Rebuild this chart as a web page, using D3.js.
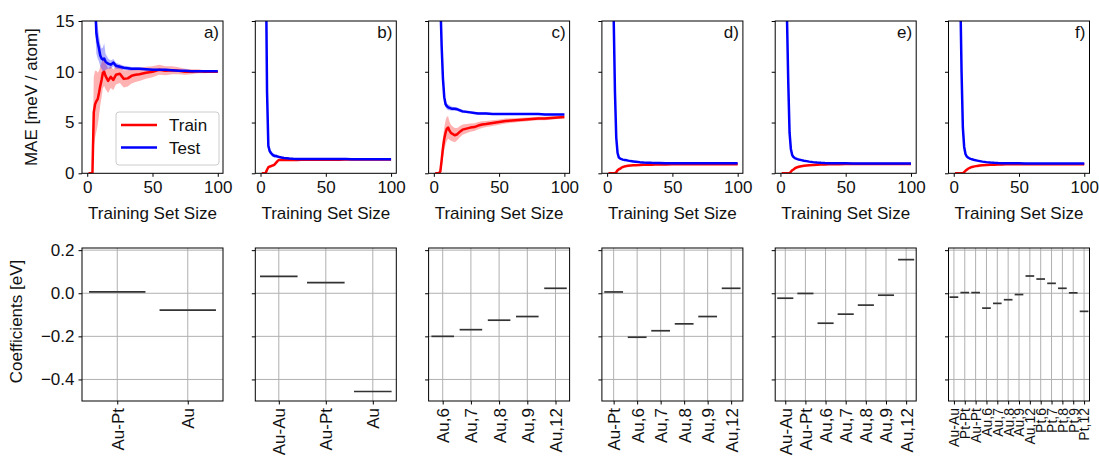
<!DOCTYPE html>
<html>
<head>
<script src="https://d3js.org/d3.v7.min.js"></script>
<style>
  body { margin: 0; background: #fff; }
  svg { font-family: 'Liberation Sans', Arial, sans-serif; }
  .axis path, .axis line { stroke: #000; stroke-width: 1; }
  .axis text { font-size: 17px; fill: #111; }
</style>
</head>
<body>
<div id="chart"></div>
<script>
// training set sizes (shared by every learning curve)
const sizes = [1,2,3,4,5,6,7,8,9,10,11,12,13,14,16,18,20,22,25,28,31,34,37,40,45,50,55,60,65,70,75,80,85,90,95,100];

// panel a
const trainA = [0,0,0,0,6.0,6.8,7.1,7.3,7.9,8.6,9.2,9.9,10.0,9.6,9.1,9.5,9.2,9.7,9.8,9.3,9.35,9.6,9.7,9.75,9.9,10.0,10.2,10.1,10.15,10.1,10.0,10.0,10.05,10.0,10.0,10.0];
const trainAsd = [0,0,0,0,3.5,3.3,3.0,2.6,2.2,1.9,1.7,1.5,1.4,1.3,1.2,1.1,1.0,0.95,0.9,0.85,0.8,0.75,0.7,0.65,0.6,0.55,0.5,0.45,0.4,0.35,0.3,0.25,0.2,0.15,0.1,0.08];
const testA = [60,45,35,28,22,17,13.8,12.9,12.3,11.6,11.3,11.2,11.3,11.0,10.8,10.7,10.9,10.6,10.5,10.4,10.35,10.3,10.3,10.3,10.25,10.2,10.2,10.2,10.15,10.1,10.1,10.05,10.05,10.05,10.05,10.05];
const testAsd = [5,5,5,5,4,2.5,2.0,1.6,1.3,1.1,1.0,1.2,1.5,0.8,0.5,0.4,0.35,0.3,0.25,0.2,0.2,0.18,0.16,0.15,0.13,0.12,0.1,0.1,0.09,0.08,0.07,0.06,0.06,0.05,0.05,0.05];
// panel b
const trainB = [0,0,0,0.05,0.35,0.6,0.65,0.7,0.75,0.8,0.9,1.05,1.2,1.3,1.3,1.3,1.3,1.3,1.32,1.32,1.33,1.33,1.33,1.33,1.34,1.34,1.34,1.34,1.35,1.35,1.35,1.35,1.35,1.35,1.35,1.35];
const trainBsd = [0,0,0,0.05,0.15,0.15,0.15,0.15,0.12,0.12,0.1,0.1,0.1,0.08,0.08,0.07,0.06,0.06,0.05,0.05,0.05,0.05,0.05,0.05,0.04,0.04,0.04,0.04,0.04,0.03,0.03,0.03,0.03,0.03,0.03,0.03];
const testB = [80,60,40,22,8,2.7,2.2,2.0,1.85,1.75,1.7,1.7,1.65,1.62,1.55,1.5,1.48,1.45,1.43,1.42,1.41,1.4,1.4,1.4,1.4,1.4,1.4,1.4,1.4,1.39,1.39,1.39,1.39,1.38,1.38,1.38];
const testBsd = [5,5,5,4,2,0.3,0.25,0.2,0.2,0.18,0.15,0.15,0.12,0.12,0.1,0.1,0.08,0.08,0.07,0.06,0.06,0.05,0.05,0.05,0.05,0.04,0.04,0.04,0.04,0.04,0.03,0.03,0.03,0.03,0.03,0.03];
// panel c
const trainC = [0,0,0,0,0.2,1.3,2.5,3.4,4.0,4.4,4.5,4.2,4.0,3.9,3.75,3.85,4.1,4.3,4.4,4.5,4.55,4.7,4.8,4.85,4.95,5.05,5.15,5.2,5.25,5.3,5.35,5.4,5.4,5.45,5.5,5.55];
const trainCsd = [0,0,0,0,0.3,0.8,1.0,1.1,1.2,1.2,1.1,0.9,0.8,0.75,0.7,0.6,0.55,0.5,0.45,0.4,0.38,0.35,0.33,0.3,0.28,0.26,0.24,0.22,0.2,0.2,0.18,0.18,0.17,0.16,0.15,0.15];
const testC = [70,50,35,25,17,12.5,9.3,7.5,6.8,6.6,6.5,6.45,6.4,6.35,6.35,6.3,6.2,6.1,6.05,6.0,5.95,5.9,5.9,5.9,5.85,5.85,5.85,5.85,5.85,5.85,5.85,5.85,5.8,5.8,5.8,5.8];
const testCsd = [5,5,5,5,2,0.6,0.4,0.35,0.3,0.3,0.28,0.25,0.22,0.2,0.18,0.17,0.16,0.15,0.14,0.13,0.12,0.12,0.11,0.11,0.1,0.1,0.1,0.09,0.09,0.09,0.08,0.08,0.08,0.08,0.07,0.07];
// panels d, e, f (narrow bands)
const trainD = [0,0,0,0,0,0,0.1,0.3,0.4,0.45,0.55,0.62,0.66,0.7,0.74,0.77,0.79,0.8,0.82,0.83,0.84,0.85,0.86,0.86,0.87,0.88,0.88,0.88,0.88,0.88,0.88,0.88,0.88,0.88,0.88,0.88];
const testD = [80,60,40,25,15.5,8,3.5,2.0,1.55,1.45,1.4,1.35,1.32,1.3,1.25,1.2,1.17,1.14,1.1,1.07,1.05,1.03,1.02,1.01,1.0,1.0,1.0,1.0,1.0,0.99,0.99,0.99,0.99,0.99,0.99,0.99];
const trainE = [0,0,0,0,0,0,0,0.15,0.3,0.38,0.48,0.55,0.6,0.64,0.7,0.74,0.77,0.79,0.82,0.84,0.86,0.87,0.88,0.89,0.9,0.91,0.91,0.91,0.91,0.91,0.91,0.91,0.91,0.91,0.91,0.91];
const testE = [80,60,40,25,15.5,9,4,2.4,1.8,1.6,1.5,1.45,1.4,1.36,1.3,1.24,1.2,1.15,1.1,1.06,1.03,1.01,1.0,0.99,0.98,0.98,0.97,0.97,0.97,0.97,0.97,0.97,0.97,0.96,0.96,0.96];
const trainF = [0,0,0,0,0,0,0,0.1,0.25,0.35,0.45,0.52,0.58,0.62,0.68,0.73,0.76,0.79,0.82,0.84,0.85,0.86,0.87,0.88,0.89,0.9,0.9,0.9,0.9,0.9,0.9,0.9,0.9,0.9,0.9,0.9];
const testF = [80,60,40,28,18,10,4.5,2.6,1.9,1.65,1.55,1.48,1.42,1.38,1.3,1.25,1.2,1.15,1.1,1.06,1.03,1.01,1.0,0.99,0.98,0.98,0.97,0.97,0.97,0.97,0.97,0.96,0.96,0.96,0.96,0.96];
const trainSmallSd = [0,0,0,0,0,0,0.05,0.08,0.08,0.07,0.06,0.06,0.05,0.05,0.05,0.04,0.04,0.04,0.03,0.03,0.03,0.03,0.03,0.03,0.02,0.02,0.02,0.02,0.02,0.02,0.02,0.02,0.02,0.02,0.02,0.02];
const testSmallSd = [5,5,5,4,2,0.5,0.2,0.1,0.08,0.07,0.06,0.06,0.05,0.05,0.05,0.04,0.04,0.04,0.03,0.03,0.03,0.03,0.03,0.03,0.02,0.02,0.02,0.02,0.02,0.02,0.02,0.02,0.02,0.02,0.02,0.02];

// coefficient panels
const catsA = ["Au-Pt","Au"];
const coefA = [0.006,-0.078];
const catsB = ["Au-Au","Au-Pt","Au"];
const coefB = [0.078,0.049,-0.456];
const catsC = ["Au,6","Au,7","Au,8","Au,9","Au,12"];
const coefC = [-0.2,-0.169,-0.125,-0.108,0.023];
const catsD = ["Au-Pt","Au,6","Au,7","Au,8","Au,9","Au,12"];
const coefD = [0.006,-0.204,-0.174,-0.142,-0.108,0.023];
const catsE = ["Au-Au","Au-Pt","Au,6","Au,7","Au,8","Au,9","Au,12"];
const coefE = [-0.023,-0.001,-0.139,-0.097,-0.055,-0.009,0.156];
const catsF = ["Au-Au","Pt-Pt","Au-Pt","Au,6","Au,7","Au,8","Au,9","Au,12","Pt,6","Pt,7","Pt,8","Pt,9","Pt,12"];
const coefF = [-0.018,0.003,0.003,-0.069,-0.047,-0.03,-0.006,0.08,0.066,0.046,0.023,0.002,-0.084];

const panelLabels = ["a)","b)","c)","d)","e)","f)"];
const maeTicks = [0,5,10,15];
const sizeTicks = [0,50,100];
const coefTicks = [0.2,0.0,-0.2,-0.4];

const curves = [
  {train: trainA, trainSd: trainAsd, test: testA, testSd: testAsd},
  {train: trainB, trainSd: trainBsd, test: testB, testSd: testBsd},
  {train: trainC, trainSd: trainCsd, test: testC, testSd: testCsd},
  {train: trainD, trainSd: trainSmallSd, test: testD, testSd: testSmallSd},
  {train: trainE, trainSd: trainSmallSd, test: testE, testSd: testSmallSd},
  {train: trainF, trainSd: trainSmallSd, test: testF, testSd: testSmallSd}
];
const coefs = [
  {cats: catsA, vals: coefA}, {cats: catsB, vals: coefB}, {cats: catsC, vals: coefC},
  {cats: catsD, vals: coefD}, {cats: catsE, vals: coefE}, {cats: catsF, vals: coefF}
];

const W = 1099, H = 458;
const left0 = 82, step = 173.3, pw = 141;
const topY = 21, topH = 152.3;
const botY = 248, botH = 153;

const svg = d3.select("#chart").append("svg").attr("width", W).attr("height", H);

const x = d3.scaleLinear().domain([-4, 104]).range([0, pw]);
const y = d3.scaleLinear().domain([0, 15]).range([topH, 0]);
const yc = d3.scaleLinear().domain([-0.5, 0.21]).range([botH, 0]);

const fmtCoef = d => (d < 0 ? "\u2212" : "") + Math.abs(d).toFixed(1);

curves.forEach((c, i) => {
  const g = svg.append("g").attr("transform", `translate(${left0 + i * step},${topY})`);
  g.append("clipPath").attr("id", "clip" + i)
    .append("rect").attr("width", pw).attr("height", topH);
  const plot = g.append("g").attr("clip-path", `url(#clip${i})`);

  const series = [
    {m: c.train, s: c.trainSd, col: "#ff0000"},
    {m: c.test, s: c.testSd, col: "#0000ff"}
  ];
  series.forEach(se => {
    const area = d3.area()
      .x((d, k) => x(sizes[k]))
      .y0((d, k) => y(se.m[k] - se.s[k]))
      .y1((d, k) => y(se.m[k] + se.s[k]));
    plot.append("path").attr("d", area(se.m))
      .attr("fill", se.col).attr("fill-opacity", 0.3).attr("stroke", "none");
  });
  series.forEach(se => {
    const line = d3.line().x((d, k) => x(sizes[k])).y(d => y(d));
    plot.append("path").attr("d", line(se.m))
      .attr("fill", "none").attr("stroke", se.col).attr("stroke-width", 2.5)
      .attr("stroke-linejoin", "round");
  });

  g.append("g").attr("class", "axis").attr("transform", `translate(0,${topH})`)
    .call(d3.axisBottom(x).tickValues(sizeTicks).tickSize(3.5).tickSizeOuter(0).tickPadding(4))
    .call(a => a.select(".domain").remove());
  const ya = g.append("g").attr("class", "axis")
    .call(d3.axisLeft(y).tickValues(maeTicks).tickSize(3.5).tickSizeOuter(0).tickPadding(4));
  ya.select(".domain").remove();
  if (i > 0) ya.selectAll("text").remove();

  g.append("rect").attr("width", pw).attr("height", topH)
    .attr("fill", "none").attr("stroke", "#000").attr("stroke-width", 1);

  g.append("text").attr("x", pw - 4).attr("y", 17).attr("text-anchor", "end")
    .attr("font-size", 17).attr("fill", "#111").text(panelLabels[i]);

  g.append("text").attr("x", pw / 2).attr("y", topH + 46).attr("text-anchor", "middle")
    .attr("font-size", 17).attr("fill", "#111").text("Training Set Size");

  if (i === 0) {
    const lg = g.append("g").attr("transform", "translate(34,91)");
    lg.append("rect").attr("width", 103).attr("height", 53).attr("rx", 3)
      .attr("fill", "#fff").attr("fill-opacity", 0.8).attr("stroke", "#cccccc");
    [["Train", "#ff0000"], ["Test", "#0000ff"]].forEach((e, k) => {
      const yy = 13 + k * 22.5;
      lg.append("line").attr("x1", 5).attr("x2", 41).attr("y1", yy).attr("y2", yy)
        .attr("stroke", e[1]).attr("stroke-width", 2.5);
      lg.append("text").attr("x", 53).attr("y", yy + 6).attr("font-size", 17)
        .attr("fill", "#111").text(e[0]);
    });
  }
});

coefs.forEach((c, i) => {
  const g = svg.append("g").attr("transform", `translate(${left0 + i * step},${botY})`);
  const n = c.cats.length;
  const xc = d3.scaleLinear().domain([-0.5, n - 0.5]).range([0, pw]);
  const idx = d3.range(n);

  // grid
  g.selectAll(".vg").data(idx).join("line")
    .attr("x1", d => xc(d)).attr("x2", d => xc(d)).attr("y1", 0).attr("y2", botH)
    .attr("stroke", "#b0b0b0").attr("stroke-width", 1);
  g.selectAll(".hg").data(coefTicks).join("line")
    .attr("x1", 0).attr("x2", pw).attr("y1", d => yc(d)).attr("y2", d => yc(d))
    .attr("stroke", "#b0b0b0").attr("stroke-width", 1);

  g.selectAll(".seg").data(c.vals).join("line")
    .attr("x1", (d, k) => xc(k - 0.4)).attr("x2", (d, k) => xc(k + 0.4))
    .attr("y1", d => yc(d)).attr("y2", d => yc(d))
    .attr("stroke", "#333").attr("stroke-width", 1.7);

  const fs = n > 10 ? 14 : 17;
  const xa = g.append("g").attr("class", "axis").attr("transform", `translate(0,${botH})`)
    .call(d3.axisBottom(xc).tickValues(idx).tickFormat(k => c.cats[k]).tickSize(3.5).tickSizeOuter(0));
  xa.select(".domain").remove();
  xa.selectAll("text")
    .attr("transform", "rotate(-90)")
    .attr("text-anchor", "end")
    .attr("x", -7).attr("y", 0).attr("dy", "0.35em")
    .style("font-size", fs + "px");

  const ya = g.append("g").attr("class", "axis")
    .call(d3.axisLeft(yc).tickValues(coefTicks).tickFormat(fmtCoef).tickSize(3.5).tickSizeOuter(0).tickPadding(4));
  ya.select(".domain").remove();
  if (i > 0) ya.selectAll("text").remove();

  g.append("rect").attr("width", pw).attr("height", botH)
    .attr("fill", "none").attr("stroke", "#000").attr("stroke-width", 1);
});

svg.append("text").attr("transform", `translate(37,${topY + topH / 2}) rotate(-90)`)
  .attr("text-anchor", "middle").attr("font-size", 17).attr("fill", "#111")
  .text("MAE [meV / atom]");
svg.append("text").attr("transform", `translate(22,${botY + botH / 2 - 3}) rotate(-90)`)
  .attr("text-anchor", "middle").attr("font-size", 17).attr("fill", "#111")
  .text("Coefficients [eV]");
</script>
</body>
</html>
